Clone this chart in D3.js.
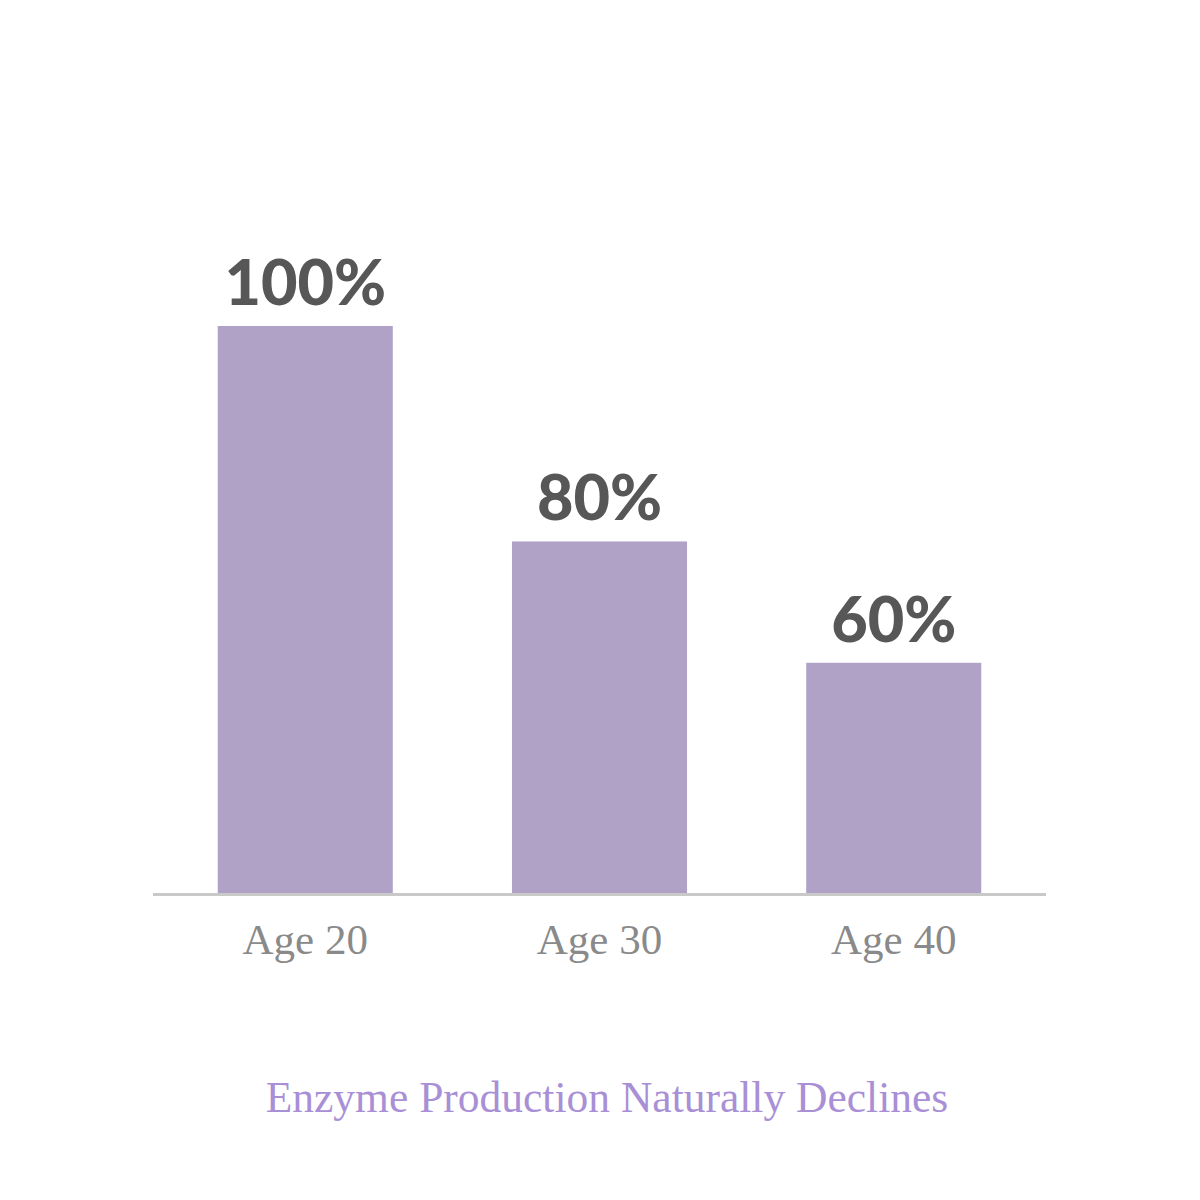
<!DOCTYPE html>
<html><head><meta charset="utf-8">
<script src="https://cdn.jsdelivr.net/npm/d3@7"></script>
<style>html,body{margin:0;padding:0;background:#fff;}</style>
</head><body>
<script>
const categories = ["Age 20", "Age 30", "Age 40"];
const barValues = [100, 62, 40.6];
const valueLabels = ["100%", "80%", "60%"];
const title = "Enzyme Production Naturally Declines";

const W = 1200, H = 1200;
const svg = d3.select("body").append("svg").attr("width", W).attr("height", H);
svg.append("rect").attr("width", W).attr("height", H).attr("fill", "#fff");

const x = d3.scaleBand().domain(categories).range([153, 1046]).paddingInner(0.405).paddingOuter(0.22);
const y = d3.scaleLinear().domain([0, 100]).range([893, 326]);

const data = categories.map((c, i) => ({c, v: barValues[i], l: valueLabels[i]}));

svg.selectAll("rect.bar").data(data).enter().append("rect")
  .attr("class", "bar")
  .attr("x", d => x(d.c)).attr("width", x.bandwidth())
  .attr("y", d => y(d.v)).attr("height", d => y(0) - y(d.v))
  .attr("fill", "#b0a2c6");

svg.append("line").attr("x1", 153).attr("x2", 1046).attr("y1", 894.5).attr("y2", 894.5)
  .attr("stroke", "#c9c9c9").attr("stroke-width", 3);

svg.selectAll("text.val").data(data).enter().append("text")
  .attr("class", "val")
  .attr("x", d => x(d.c) + x.bandwidth() / 2).attr("y", d => y(d.v) - 21)
  .attr("text-anchor", "middle")
  .attr("font-family", "Lato, 'Open Sans', sans-serif").attr("font-weight", 900)
  .attr("font-size", 63).attr("fill", "#575757")
  .text(d => d.l);

svg.selectAll("text.cat").data(data).enter().append("text")
  .attr("class", "cat")
  .attr("x", d => x(d.c) + x.bandwidth() / 2).attr("y", 954)
  .attr("text-anchor", "middle")
  .attr("font-family", "'Liberation Serif', 'DejaVu Serif', serif")
  .attr("font-size", 43).attr("fill", "#8a8a8a")
  .text(d => d.c);

svg.append("text").attr("x", 607).attr("y", 1112).attr("text-anchor", "middle")
  .attr("font-family", "'Liberation Serif', 'DejaVu Serif', serif")
  .attr("font-size", 43.5).attr("fill", "#a98fd6")
  .text(title);
</script>
</body></html>
